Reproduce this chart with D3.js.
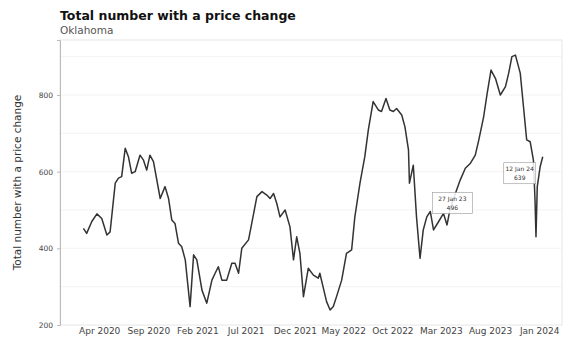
<!DOCTYPE html>
<html>
<head>
<meta charset="utf-8">
<script src="https://cdn.jsdelivr.net/npm/d3@7"></script>
<style>
  body { margin: 0; background: #fff; }
  text { font-family: "DejaVu Sans", sans-serif; }
</style>
</head>
<body>
<script>
// base data
const dates = ["2020-02-12","2020-02-22","2020-03-09","2020-03-25","2020-04-09","2020-04-25","2020-05-05","2020-05-21","2020-05-31","2020-06-10",
  "2020-06-21","2020-07-01","2020-07-11","2020-07-22","2020-08-06","2020-08-17","2020-08-27","2020-09-06","2020-09-17","2020-10-08",
  "2020-10-23","2020-11-03","2020-11-13","2020-11-23","2020-12-04","2020-12-14","2020-12-25","2021-01-09","2021-01-20","2021-01-30",
  "2021-02-15","2021-03-02","2021-03-18","2021-03-28","2021-04-07","2021-04-18","2021-05-03","2021-05-19","2021-05-29","2021-06-09",
  "2021-06-19","2021-07-10","2021-07-26","2021-08-05","2021-08-21","2021-09-05","2021-09-15","2021-09-26","2021-10-06","2021-10-16",
  "2021-11-01","2021-11-16","2021-11-27","2021-12-07","2021-12-17","2021-12-28","2022-01-12","2022-01-28","2022-02-12","2022-02-17",
  "2022-02-28","2022-03-10","2022-03-21","2022-03-31","2022-04-10","2022-04-26","2022-05-11","2022-05-27","2022-06-06","2022-06-22",
  "2022-07-07","2022-07-18","2022-08-02","2022-08-18","2022-08-28","2022-09-11","2022-09-23","2022-10-04","2022-10-14","2022-10-30",
  "2022-11-09","2022-11-20","2022-11-23","2022-12-05","2022-12-15","2022-12-26","2023-01-05","2023-01-16","2023-01-27","2023-02-06",
  "2023-02-22","2023-03-09","2023-03-20","2023-03-30","2023-04-15","2023-04-30","2023-05-16","2023-06-01","2023-06-16","2023-06-27",
  "2023-07-12","2023-07-23","2023-08-04","2023-08-18","2023-09-02","2023-09-18","2023-09-28","2023-10-08","2023-10-19","2023-11-03",
  "2023-11-13","2023-11-23","2023-12-04","2023-12-14","2023-12-19","2023-12-22","2023-12-26","2024-01-04","2024-01-12"];

const values = [452,439,470,490,478,435,443,570,583,587,
  661,639,596,600,643,630,604,643,626,530,
  561,530,474,465,413,404,370,248,383,370,
  291,257,317,335,352,317,317,361,361,335,
  400,422,491,535,548,539,530,543,517,482,
  500,456,370,430,387,274,348,330,322,335,
  296,261,239,248,274,317,387,396,482,570,
  639,709,783,761,757,791,761,757,765,748,
  717,657,570,617,482,374,448,482,496,448,
  470,491,461,504,543,578,609,622,643,683,
  743,804,865,843,800,822,857,900,904,857,
  770,683,678,630,526,430,561,613,639];

const xTicks = ["2020-04-01","2020-09-01","2021-02-01","2021-07-01","2021-12-01","2022-05-01","2022-10-01","2023-03-01","2023-08-01","2024-01-01"];
const yTicks = [200, 400, 600, 800];

const annoDates = ["2023-01-27", "2024-01-12"];
const annoLines = [["27 Jan 23", "496"], ["12 Jan 24", "639"]];

// constants
const width = 573;
const height = 339;
const margin = { top: 40, bottom: 14, left: 60, right: 11 };

const parse = d3.utcParse("%Y-%m-%d");
const data = dates.map((d, i) => ({ date: parse(d), value: values[i] }));

const svg = d3.select('body').append('svg')
  .attr('width', width).attr('height', height);

const xScale = d3.scaleUtc()
  .domain([parse("2019-12-01"), parse("2024-03-12")])
  .range([margin.left, width - margin.right]);

const yScale = d3.scaleLinear()
  .domain([200, 943.5])
  .range([height - margin.bottom, margin.top]);

// panel border
svg.append('rect')
  .attr('x', margin.left).attr('y', margin.top)
  .attr('width', width - margin.right - margin.left)
  .attr('height', height - margin.bottom - margin.top)
  .attr('fill', 'none').attr('stroke', '#e6e6e6').attr('stroke-width', 1);

// faint gridlines
svg.append('g').selectAll('line').data(d3.range(300, 901, 100)).enter().append('line')
  .attr('x1', margin.left).attr('x2', width - margin.right)
  .attr('y1', d => yScale(d)).attr('y2', d => yScale(d))
  .attr('stroke', '#f3f3f3').attr('stroke-width', 1);

// x axis
const xAxis = svg.append('g').attr('class', 'xAxis')
  .attr('transform', `translate(0, ${height - margin.bottom})`)
  .call(d3.axisBottom(xScale).tickValues(xTicks.map(parse)).tickFormat(d3.utcFormat("%b %Y")).tickSize(0).tickPadding(3));
xAxis.select('.domain').remove();
xAxis.selectAll('text').attr('font-size', 9).attr('fill', '#444');

// y axis
const yAxis = svg.append('g').attr('class', 'yAxis')
  .attr('transform', `translate(${margin.left}, 0)`)
  .call(d3.axisLeft(yScale).tickValues(yTicks).tickSize(3).tickPadding(4));
yAxis.select('.domain').attr('stroke', '#bbb');
yAxis.selectAll('.tick line').attr('stroke', '#bbb');
yAxis.selectAll('text').attr('font-size', 7.5).attr('fill', '#444');

// y axis title
svg.append('text')
  .attr('transform', `translate(21, ${(margin.top + height - margin.bottom) / 2}) rotate(-90)`)
  .attr('text-anchor', 'middle').attr('font-size', 10.5).attr('fill', '#333')
  .text('Total number with a price change');

// line
const line = d3.line()
  .x(d => xScale(d.date))
  .y(d => yScale(d.value));

svg.append('path').datum(data)
  .attr('d', line)
  .attr('fill', 'none').attr('stroke', '#333').attr('stroke-width', 1.5)
  .attr('stroke-linejoin', 'round');

// annotations
annoDates.forEach((d, i) => {
  const v = data.find(p => +p.date === +parse(d)).value;
  const px = xScale(parse(d)), py = yScale(v);
  const bw = i === 0 ? 40 : 32, bh = 21;
  const bx = i === 0 ? px + 2 : px - 39;
  const by = i === 0 ? py - 19 : py + 6;
  const g = svg.append('g');
  g.append('rect').attr('x', bx).attr('y', by).attr('width', bw).attr('height', bh)
    .attr('fill', 'white').attr('fill-opacity', 0.85).attr('stroke', '#999').attr('stroke-width', 0.6);
  annoLines[i].forEach((t, j) => {
    g.append('text').attr('x', bx + bw / 2).attr('y', by + 8 + j * 9)
      .attr('text-anchor', 'middle').attr('font-size', 6).attr('fill', '#333').text(t);
  });
});

// title
svg.append('text').attr('x', margin.left).attr('y', 20)
  .attr('font-size', 12.5).attr('font-weight', 'bold').attr('fill', '#111')
  .text('Total number with a price change');
svg.append('text').attr('x', margin.left).attr('y', 34)
  .attr('font-size', 10.5).attr('fill', '#555')
  .text('Oklahoma');
</script>
</body>
</html>
